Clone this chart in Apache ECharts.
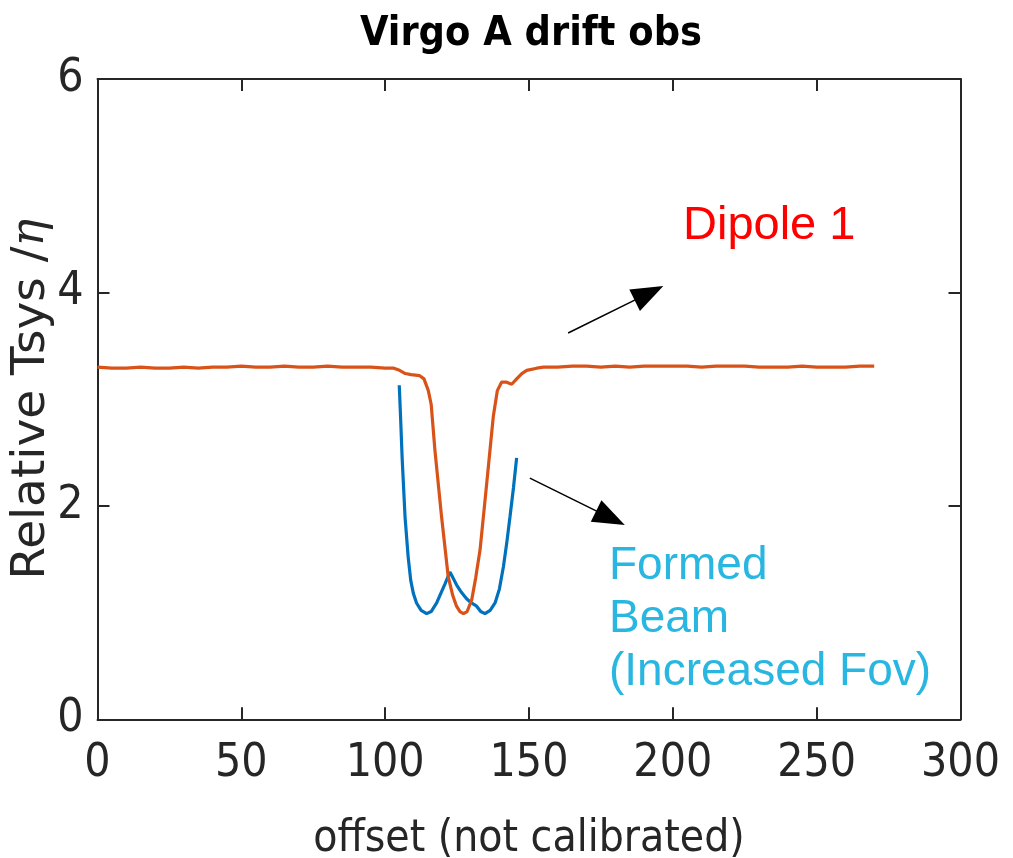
<!DOCTYPE html>
<html>
<head>
<meta charset="utf-8">
<script src="https://cdn.jsdelivr.net/npm/echarts@6/dist/echarts.min.js"></script>
<style>html,body{margin:0;padding:0;background:#fff;}#c{width:1013px;height:858px;}</style>
</head>
<body>
<div id="c"></div>
<script>
// ---- data ----
const xTicks = [0, 50, 100, 150, 200, 250, 300];
const yTicks = [0, 2, 4, 6];
const dipoleX = [0,5,10,15,20,25,30,35,40,45,50,55,60,65,70,75,80,85,90,95,100,103,105,107,109,112,113.5,115,116,117.3,119.6,121.9,123.5,124.8,126,127.2,128.5,130.1,131.5,133,135.3,137.6,139,140.5,142,144,145.7,147.5,149.2,152.7,155,160,165,170,175,180,185,190,195,200,205,210,215,220,225,230,235,240,245,250,255,260,265,270];
const dipoleY = [3.30,3.29,3.29,3.30,3.29,3.29,3.30,3.29,3.30,3.30,3.31,3.30,3.30,3.31,3.30,3.30,3.31,3.30,3.30,3.30,3.29,3.29,3.27,3.24,3.23,3.22,3.19,3.08,2.95,2.52,1.90,1.34,1.16,1.06,1.01,0.99,1.01,1.12,1.33,1.59,2.21,2.84,3.08,3.16,3.16,3.14,3.19,3.24,3.27,3.29,3.30,3.30,3.31,3.31,3.30,3.31,3.30,3.31,3.31,3.31,3.31,3.30,3.31,3.31,3.31,3.30,3.30,3.30,3.31,3.30,3.30,3.30,3.31,3.31];
const beamX = [104.9,105.4,105.9,106.9,108.0,108.9,109.8,110.9,112.5,114.4,116,117.9,119.5,120.8,122.5,123.5,124.8,126.5,128.3,130,131.8,133.2,134.7,136.5,138.2,139.7,141.1,142.3,143.4,144.6,145.7];
const beamY = [3.13,2.80,2.45,1.90,1.52,1.30,1.18,1.09,1.02,0.99,1.01,1.09,1.19,1.27,1.38,1.33,1.26,1.19,1.13,1.09,1.06,1.01,0.99,1.02,1.09,1.22,1.43,1.66,1.90,2.17,2.45];
// annotation arrows (data coordinates): [fromX, fromY, toX, toY]
const arrowDipole = [163.6, 3.62, 196.7, 4.06];
const arrowBeam = [150.3, 2.26, 183.3, 1.82];
const titleText = 'Virgo A drift obs';
const xName = 'offset (not calibrated)';
const labelDipole = 'Dipole 1';
const labelBeam = ['Formed', 'Beam', '(Increased Fov)'];

const zip = (a, b) => a.map((v, i) => [v, b[i]]);
const axisColor = '#262626';
const condFont = "'DejaVu Sans Condensed', 'Liberation Sans Narrow', 'DejaVu Sans', sans-serif";

const chart = echarts.init(document.getElementById('c'), null, {renderer: 'canvas'});

// arrow annotation drawn through the chart's own coordinate system
const HEAD_LEN = 32, HEAD_W = 24;
function renderArrow(params, api) {
  const p1 = api.coord([api.value(0), api.value(1)]);
  const p2 = api.coord([api.value(2), api.value(3)]);
  const dx = p2[0] - p1[0], dy = p2[1] - p1[1];
  const len = Math.sqrt(dx * dx + dy * dy);
  const ux = dx / len, uy = dy / len, nx = -uy, ny = ux;
  const bx = p2[0] - ux * HEAD_LEN, by = p2[1] - uy * HEAD_LEN;
  return {
    type: 'group',
    children: [
      {type: 'line', shape: {x1: p1[0], y1: p1[1], x2: bx + ux * 4, y2: by + uy * 4},
       style: {stroke: '#000', lineWidth: 1.5}},
      {type: 'polygon', shape: {points: [
        [p2[0], p2[1]],
        [bx + nx * HEAD_W / 2, by + ny * HEAD_W / 2],
        [bx - nx * HEAD_W / 2, by - ny * HEAD_W / 2]
      ]}, style: {fill: '#000'}}
    ]
  };
}

const option = {
  animation: false,
  backgroundColor: '#fff',
  title: {
    text: titleText, left: 526, top: 9, textAlign: 'center',
    textStyle: {fontFamily: condFont, fontWeight: 'bold', fontSize: 41, color: '#000'}
  },
  grid: {left: 97.5, right: 52.5, top: 79, bottom: 138.7, containLabel: false, outerBoundsMode: 'none'},
  xAxis: [{
    type: 'value', min: 0, max: 300, interval: 50, position: 'bottom',
    name: xName, nameLocation: 'middle', nameGap: 98,
    nameTextStyle: {fontFamily: condFont, fontSize: 44, color: axisColor},
    axisLine: {show: true, onZero: false, lineStyle: {color: axisColor, width: 2}},
    axisTick: {show: true, inside: true, length: 12, lineStyle: {color: axisColor, width: 2}},
    axisLabel: {fontFamily: condFont, fontSize: 46, color: axisColor, margin: 22},
    splitLine: {show: false}
  }, {
    type: 'value', min: 0, max: 300, interval: 50, position: 'top',
    axisLine: {show: true, onZero: false, lineStyle: {color: axisColor, width: 2}},
    axisTick: {show: true, inside: true, length: 12, lineStyle: {color: axisColor, width: 2}},
    axisLabel: {show: false}, splitLine: {show: false}
  }],
  yAxis: [{
    type: 'value', min: 0, max: 6, interval: 2, position: 'left',
    name: '{a|Relative Tsys /}{b|η}', nameLocation: 'middle', nameGap: 42, nameRotate: 90,
    nameMoveOverlap: false,
    nameTextStyle: {
      padding: [0, 0, 0, 0],
      rich: {
        a: {fontFamily: "'DejaVu Sans', sans-serif", fontSize: 47, color: axisColor},
        b: {fontFamily: "'DejaVu Serif', serif", fontStyle: 'italic', fontSize: 46, color: axisColor, verticalAlign: 'top'}
      }
    },
    axisLine: {show: true, onZero: false, lineStyle: {color: axisColor, width: 2}},
    axisTick: {show: true, inside: true, length: 12, lineStyle: {color: axisColor, width: 2}},
    axisLabel: {fontFamily: condFont, fontSize: 46, color: axisColor, margin: 14},
    splitLine: {show: false}
  }, {
    type: 'value', min: 0, max: 6, interval: 2, position: 'right',
    axisLine: {show: true, onZero: false, lineStyle: {color: axisColor, width: 2}},
    axisTick: {show: true, inside: true, length: 12, lineStyle: {color: axisColor, width: 2}},
    axisLabel: {show: false}, splitLine: {show: false}
  }],
  series: [
    {type: 'line', name: 'Dipole 1', data: zip(dipoleX, dipoleY), showSymbol: false, symbol: 'none',
     lineStyle: {color: '#D95319', width: 3.2}, z: 3},
    {type: 'line', name: 'Formed Beam', data: zip(beamX, beamY), showSymbol: false, symbol: 'none',
     lineStyle: {color: '#0072BD', width: 3.2}, z: 2},
    {type: 'custom', silent: true, z: 5, renderItem: renderArrow,
     encode: {x: [0, 2], y: [1, 3]},
     data: [arrowDipole, arrowBeam]}
  ],
  graphic: [
    {type: 'text', left: 683, top: 203, style: {text: labelDipole, fill: '#FF0000', font: "47px 'Liberation Sans', Arial, sans-serif"}},
    {type: 'text', left: 609, top: 540, style: {text: labelBeam.join('\n'), fill: '#29B6E0', font: "46px 'Liberation Sans', Arial, sans-serif", lineHeight: 53}}
  ]
};
chart.setOption(option);
</script>
</body>
</html>
